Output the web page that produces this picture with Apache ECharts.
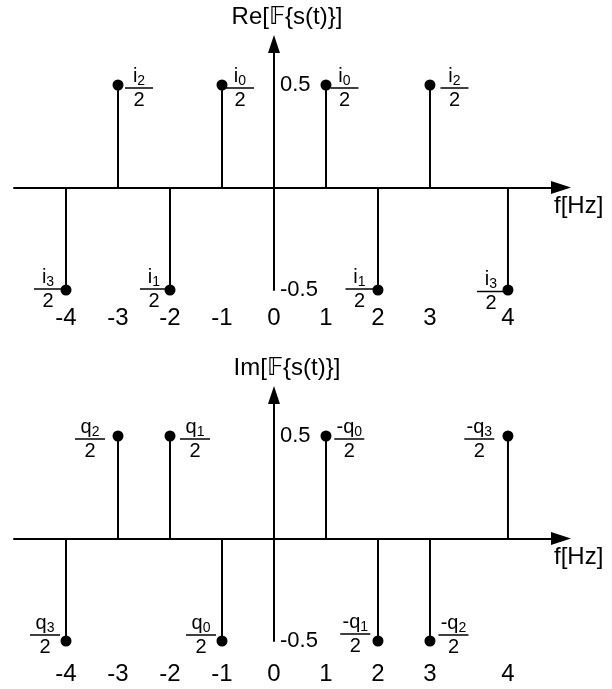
<!DOCTYPE html>
<html>
<head>
<meta charset="utf-8">
<title>Spectrum of s(t)</title>
<script src="https://cdn.jsdelivr.net/npm/echarts@6/dist/echarts.min.js"></script>
<style>
  html, body { margin: 0; padding: 0; background: #fff; }
  #chart { width: 612px; height: 689px; }
</style>
</head>
<body>
<div id="chart"></div>
<script>
// Spectral lines of s(t): frequencies in Hz and line heights
const freqs = [-4, -3, -2, -1, 1, 2, 3, 4];
const reValues = [-0.5, 0.5, -0.5, 0.5, 0.5, -0.5, 0.5, -0.5];
const imValues = [-0.5, 0.5, 0.5, -0.5, 0.5, -0.5, -0.5, 0.5];

// Coefficient names written as fractions over 2 next to each line
const reNames = ['i', 'i', 'i', 'i', 'i', 'i', 'i', 'i'];
const reSubs = ['3', '2', '1', '0', '0', '1', '2', '3'];
const imNames = ['q', 'q', 'q', 'q', '-q', '-q', '-q', '-q'];
const imSubs = ['3', '2', '1', '0', '0', '1', '2', '3'];

// Frequency axis tick labels
const tickFreqs = [-4, -3, -2, -1, 0, 1, 2, 3, 4];
const tickLabels = ['-4', '-3', '-2', '-1', '0', '1', '2', '3', '4'];
const ampTicks = [-0.5, 0.5];

// ---- layout ----
const FONT = 'Liberation Sans, Arial, DejaVu Sans, sans-serif';
const DOT = 11;
const X_MIN = -5, X_MAX = 5.52;
const GRID_LEFT = 14, GRID_W = 547;
// the sketch leaves an extra half unit between 3 Hz and 4 Hz
const drawnAt = f => (f > 3 ? f + 0.5 : f);
// the amplitude axis stands at f = 0, measured from the left grid edge
const yAxisShift = -GRID_W * (0 - X_MIN) / (X_MAX - X_MIN);

// label placement for each line: side, gap from stem, vertical shift of fraction bar
const reLabelSide = ['left', 'right', 'left', 'right', 'right', 'left', 'right', 'left'];
const reLabelGap = [4, 7, 2, 4, 4.5, 4.5, 10.5, 3];
const reLabelDy = [-1, 3, -1, 3, 3, -1, 3, 1.5];
const imLabelSide = ['left', 'left', 'right', 'left', 'right', 'left', 'right', 'left'];
const imLabelGap = [6, 13, 10, 6, 8.3, 7.7, 8.5, 13.7];
const imLabelDy = [-6, 3, 3, -6, 3, -7, -6, 3];

// numerator / fraction bar / denominator, the bar sitting at the block's centre
function fractionRich(barW) {
  return {
    n: { fontFamily: FONT, fontSize: 20, lineHeight: 20, color: '#000', align: 'center' },
    s: { fontFamily: FONT, fontSize: 14, height: 10, lineHeight: 20, color: '#000', align: 'center', verticalAlign: 'bottom' },
    b: { width: barW, height: 1.5, lineHeight: 4, backgroundColor: '#000', align: 'center' },
    d: { fontFamily: FONT, fontSize: 20, lineHeight: 20, color: '#000', align: 'center' }
  };
}

function dotData(values, names, subs, sides, gaps, dys, barW) {
  return freqs.map((f, i) => {
    const side = sides[i];
    const dx = side === 'right' ? gaps[i] - DOT / 2 : DOT / 2 - gaps[i];
    return {
      value: [drawnAt(f), values[i]],
      label: {
        show: true,
        position: side,
        distance: 0,
        offset: [dx, dys[i]],
        color: '#000',
        formatter: '{n|' + names[i] + '}{s|' + subs[i] + '}\n{b|}\n{d|2}',
        rich: fractionRich(barW)
      }
    };
  });
}

const tickPositions = tickFreqs.map(drawnAt);
const tickText = v => {
  const k = tickPositions.findIndex(p => Math.abs(p - v) < 1e-9);
  return k >= 0 ? tickLabels[k] : '';
};

function xAxisFor(gridIndex, labelMargin) {
  return {
    type: 'value', gridIndex, min: X_MIN, max: X_MAX,
    axisLine: { onZero: true, lineStyle: { color: '#000', width: 2 }, symbol: ['none', 'triangle'], symbolSize: [13, 20] },
    axisTick: { show: false },
    splitLine: { show: false },
    axisLabel: { customValues: tickPositions, formatter: tickText, margin: labelMargin, fontSize: 24, color: '#000', fontFamily: FONT },
    name: 'f[Hz]', nameLocation: 'end', nameGap: -7,
    nameTextStyle: { fontSize: 24, color: '#000', fontFamily: FONT, align: 'left', verticalAlign: 'top', padding: [7, 0, 0, 0] }
  };
}

function yAxisFor(gridIndex, title) {
  return {
    type: 'value', gridIndex, min: -0.5, max: 0.7,
    offset: yAxisShift,
    axisLine: { onZero: false, lineStyle: { color: '#000', width: 2 }, symbol: ['none', 'triangle'], symbolSize: [12, 18] },
    axisTick: { show: false },
    splitLine: { show: false },
    axisLabel: { inside: true, customValues: ampTicks, formatter: v => String(v), margin: 6, fontSize: 22, color: '#000', fontFamily: FONT },
    name: title, nameLocation: 'end', nameGap: 15,
    nameTextStyle: { fontSize: 24, color: '#000', fontFamily: FONT, align: 'center', verticalAlign: 'bottom', padding: [0, 0, 0, 26] }
  };
}

const stemStyle = { color: '#000', opacity: 1 };
const dotStyle = { color: '#000', opacity: 1 };
const chart = echarts.init(document.getElementById('chart'), null, { renderer: 'canvas' });
chart.setOption({
  animation: false,
  backgroundColor: '#fff',
  grid: [
    { left: GRID_LEFT, top: 44, width: GRID_W, height: 246, containLabel: false, outerBoundsMode: 'none' },
    { left: GRID_LEFT, top: 395, width: GRID_W, height: 246, containLabel: false, outerBoundsMode: 'none' }
  ],
  xAxis: [xAxisFor(0, 16), xAxisFor(1, 21)],
  yAxis: [yAxisFor(0, 'Re[𝔽{s(t)}]'), yAxisFor(1, 'Im[𝔽{s(t)}]')],
  series: [
    {
      type: 'bar', xAxisIndex: 0, yAxisIndex: 0, barWidth: 2, itemStyle: stemStyle,
      data: freqs.map((f, i) => [drawnAt(f), reValues[i]])
    },
    {
      type: 'scatter', xAxisIndex: 0, yAxisIndex: 0, symbol: 'circle', symbolSize: DOT, z: 3,
      itemStyle: dotStyle,
      data: dotData(reValues, reNames, reSubs, reLabelSide, reLabelGap, reLabelDy, 28)
    },
    {
      type: 'bar', xAxisIndex: 1, yAxisIndex: 1, barWidth: 2, itemStyle: stemStyle,
      data: freqs.map((f, i) => [drawnAt(f), imValues[i]])
    },
    {
      type: 'scatter', xAxisIndex: 1, yAxisIndex: 1, symbol: 'circle', symbolSize: DOT, z: 3,
      itemStyle: dotStyle,
      data: dotData(imValues, imNames, imSubs, imLabelSide, imLabelGap, imLabelDy, 30)
    }
  ]
});
</script>
</body>
</html>
